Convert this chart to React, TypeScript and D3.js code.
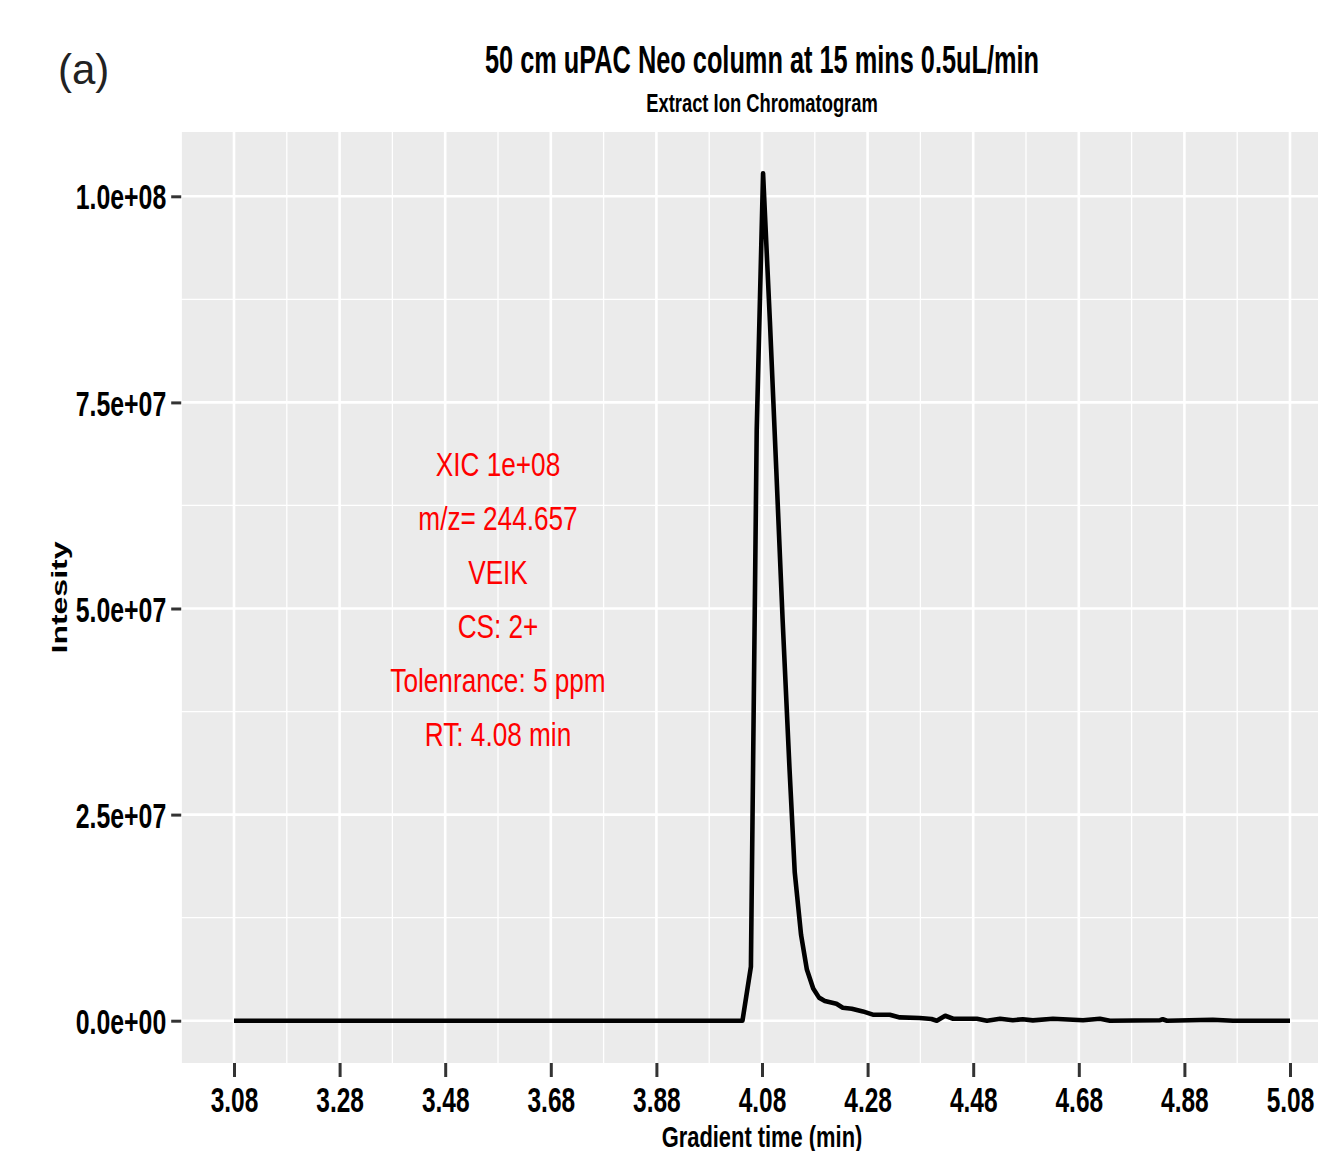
import React, { useEffect, useRef } from 'react'
import * as d3 from 'd3'

// XIC trace (time in min, intensity)
const times = [
  3.08, 4.043, 4.059, 4.070, 4.082, 4.095, 4.107, 4.119, 4.132, 4.142, 4.154,
  4.165, 4.177, 4.188, 4.199, 4.221, 4.233, 4.250, 4.271, 4.290, 4.322, 4.341,
  4.379, 4.401, 4.411, 4.427, 4.442, 4.487, 4.506, 4.531, 4.555, 4.574, 4.593,
  4.631, 4.688, 4.720, 4.739, 4.834, 4.839, 4.847, 4.910, 4.934, 4.972, 5.08
]
const intensity = [
  0, 0, 6.55e6, 7.17e7, 1.028e8, 8.48e7, 6.69e7, 4.87e7, 3.07e7, 1.8e7, 1.04e7,
  6.2e6, 3.9e6, 2.8e6, 2.4e6, 2.06e6, 1.58e6, 1.46e6, 1.13e6, 7.3e5, 7.3e5, 4.0e5,
  3.3e5, 2.1e5, 0, 6.0e5, 2.4e5, 2.4e5, 0, 2.4e5, 6e4, 1.8e5, 4e4,
  2.4e5, 6e4, 2.4e5, 0, 6e4, 1.8e5, 0, 8e4, 1.2e5, 0, 0
]

const xTicks = [3.08, 3.28, 3.48, 3.68, 3.88, 4.08, 4.28, 4.48, 4.68, 4.88, 5.08]
const xMinor = [2.98, 3.18, 3.38, 3.58, 3.78, 3.98, 4.18, 4.38, 4.58, 4.78, 4.98, 5.18]
const yTicks = [0, 2.5e7, 5e7, 7.5e7, 1e8]
const yTickLabels = ['0.0e+00', '2.5e+07', '5.0e+07', '7.5e+07', '1.0e+08']
const yMinor = [1.25e7, 3.75e7, 6.25e7, 8.75e7]

const noteLines = ['XIC 1e+08', 'm/z= 244.657', 'VEIK', 'CS: 2+', 'Tolenrance: 5 ppm', 'RT: 4.08 min']
const noteX = 3.58
const noteY = 5.12e7

const W = 1318
const H = 1151
const sans = '"Liberation Sans", Arial, Helvetica, sans-serif'

export default function App () {
  const ref = useRef<SVGSVGElement>(null)

  useEffect(() => {
    const svg = d3.select(ref.current)
    svg.selectAll('*').remove()

    const x = d3.scaleLinear().domain([2.98, 5.18]).range([181.2, 1342.8])
    const y = d3.scaleLinear().domain([-5.13e6, 1.078e8]).range([1063, 132])

    // condensed text: the source used a narrow face, so squeeze horizontally
    const label = (px: number, py: number, txt: string, size: number, sx: number, bold = true, fill = '#000') => {
      svg.append('g').attr('transform', `translate(${px},${py})`)
        .append('text')
        .attr('transform', `scale(${sx},1)`)
        .attr('text-anchor', 'middle')
        .attr('font-family', sans).attr('font-size', size)
        .attr('font-weight', bold ? 'bold' : 'normal').attr('fill', fill)
        .text(txt)
    }

    // panel
    svg.append('rect')
      .attr('x', x(2.98)).attr('y', y(1.078e8))
      .attr('width', x(5.18) - x(2.98)).attr('height', y(-5.13e6) - y(1.078e8))
      .attr('fill', '#EBEBEB')

    const grid = svg.append('g').attr('stroke', '#fff')
    grid.selectAll('.xmin').data(xMinor).join('line')
      .attr('x1', d => x(d)).attr('x2', d => x(d))
      .attr('y1', y(1.078e8)).attr('y2', y(-5.13e6)).attr('stroke-width', 1.3)
    grid.selectAll('.ymin').data(yMinor).join('line')
      .attr('y1', d => y(d)).attr('y2', d => y(d))
      .attr('x1', x(2.98)).attr('x2', x(5.18)).attr('stroke-width', 1.3)
    grid.selectAll('.xmaj').data(xTicks).join('line')
      .attr('x1', d => x(d)).attr('x2', d => x(d))
      .attr('y1', y(1.078e8)).attr('y2', y(-5.13e6)).attr('stroke-width', 2.6)
    grid.selectAll('.ymaj').data(yTicks).join('line')
      .attr('y1', d => y(d)).attr('y2', d => y(d))
      .attr('x1', x(2.98)).attr('x2', x(5.18)).attr('stroke-width', 2.6)

    // trace
    const pts = times.map((t, i) => [t, intensity[i]] as [number, number])
    const line = d3.line<[number, number]>().x(d => x(d[0])).y(d => y(d[1]))
    svg.append('path')
      .attr('d', line(pts))
      .attr('fill', 'none').attr('stroke', '#000')
      .attr('stroke-width', 4.6).attr('stroke-linejoin', 'round')

    // axes
    const ySx = 0.71
    const xSx = 0.7
    const yAxis = svg.append('g').attr('transform', `translate(${x(2.98)},0)`)
      .call(d3.axisLeft(y).tickValues(yTicks).tickSize(10).tickPadding(5)
        .tickFormat((d, i) => yTickLabels[i]))
    const xAxis = svg.append('g').attr('transform', `translate(0,${y(-5.13e6)})`)
      .call(d3.axisBottom(x).tickValues(xTicks).tickSize(14).tickPadding(10)
        .tickFormat(d3.format('.2f')))
    for (const ax of [xAxis, yAxis]) {
      ax.select('.domain').remove()
      ax.selectAll('.tick line').attr('stroke', '#333').attr('stroke-width', 3)
      ax.selectAll('.tick text')
        .attr('fill', '#000').attr('font-family', sans)
        .attr('font-weight', 'bold').attr('font-size', 35)
    }
    yAxis.selectAll('.tick text')
      .attr('dy', '0.36em').attr('x', -15 / ySx).attr('transform', `scale(${ySx},1)`)
    xAxis.selectAll('.tick text')
      .attr('dy', '0.72em').attr('transform', `scale(${xSx},1)`)

    // titles
    label(x(4.08), 73, '50 cm uPAC Neo column at 15 mins 0.5uL/min', 38, 0.667)
    label(x(4.08), 112, 'Extract Ion Chromatogram', 25, 0.735)
    label(x(4.08), 1147, 'Gradient time (min)', 30, 0.73)

    svg.append('text')
      .attr('transform', `translate(67,${(y(1.078e8) + y(-5.13e6)) / 2}) rotate(-90)`)
      .attr('text-anchor', 'middle')
      .attr('font-family', sans).attr('font-weight', 'bold').attr('font-size', 22)
      .attr('textLength', 112).attr('lengthAdjust', 'spacingAndGlyphs')
      .text('Intesity')
    svg.append('text')
      .attr('x', 58).attr('y', 84)
      .attr('font-family', sans).attr('font-size', 42).attr('fill', '#222')
      .text('(a)')

    // annotation
    const gap = 54
    const top = y(noteY) - gap * (noteLines.length - 1) / 2
    noteLines.forEach((txt, i) => {
      label(x(noteX), top + i * gap + 12, txt, 34, 0.77, false, '#FF0000')
    })
  }, [])

  return (
    <div style={{ position: 'absolute', left: 0, top: 0, width: W, height: H, overflow: 'hidden', background: '#fff' }}>
      <svg ref={ref} width={W} height={H} />
    </div>
  )
}
